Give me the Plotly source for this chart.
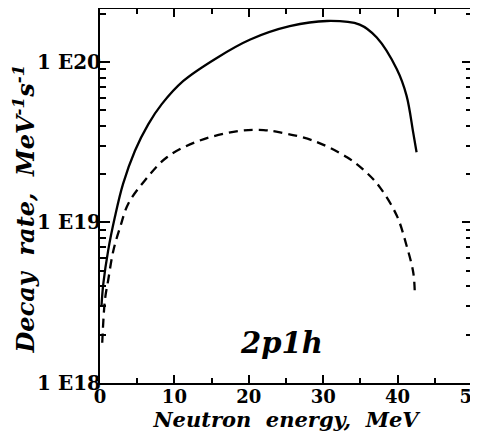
import plotly.graph_objects as go

# Neutron energy (MeV) and decay rates (MeV^-1 s^-1)
solid_energy = [0.2, 0.45, 1.1, 2.0, 3.1, 4.7, 6.5, 8.3, 11.2, 15.7, 20.2, 25.5,
                30.5, 34.9, 37.2, 39.9, 41.2, 42.1, 42.55]
solid_rate = [3.02e18, 4.17e18, 6.70e18, 1.08e19, 1.74e19, 2.80e19, 4.10e19, 5.46e19,
              7.62e19, 1.06e20, 1.38e20, 1.67e20, 1.80e20, 1.71e20, 1.42e20, 9.0e19,
              6.17e19, 3.63e19, 2.74e19]

dashed_energy = [0.3, 0.67, 1.1, 1.8, 2.7, 3.8, 6.0, 9.0, 13.4, 18.8, 22.0, 24.2,
                 28.7, 33.2, 35.8, 37.6, 39.9, 41.2, 42.1, 42.3]
dashed_rate = [1.78e18, 3.31e18, 4.37e18, 6.70e18, 9.33e18, 1.31e19, 1.82e19, 2.55e19,
               3.24e19, 3.72e19, 3.76e19, 3.64e19, 3.23e19, 2.55e19, 2.05e19, 1.66e19,
               1.10e19, 7.19e18, 4.90e18, 3.78e18]

x_ticks = [0, 10, 20, 30, 40, 50]
x_minor = [5, 15, 25, 35, 45]
y_ticks = [1e18, 1e19, 1e20]
y_ticklabels = ["1 E18", "1 E19", "1 E20"]
y_minor = [float(m) * 10.0 ** e for e in (18, 19, 20) for m in range(2, 10)]
panel_label = "2p1h"

serif = "DejaVu Serif"

fig = go.Figure()
fig.add_trace(go.Scatter(x=solid_energy, y=solid_rate, mode="lines",
                         line=dict(color="black", width=2.3, shape="spline"),
                         showlegend=False))
fig.add_trace(go.Scatter(x=dashed_energy, y=dashed_rate, mode="lines",
                         line=dict(color="black", width=2.3, dash="9px,6px", shape="spline"),
                         showlegend=False))

fig.add_annotation(x=24.4, y=18.25, xref="x", yref="y", text=panel_label,
                   showarrow=False,
                   font=dict(family=serif, size=29, color="black", style="italic",
                             weight="bold"))

fig.update_xaxes(range=[0, 50], tickmode="array", tickvals=x_ticks,
                 ticktext=[str(v) for v in x_ticks], ticklabeloverflow="allow",
                 automargin=False,
                 ticks="inside", ticklen=8, tickwidth=1.5, tickcolor="black",
                 showline=True, linecolor="black", linewidth=2, mirror="allticks",
                 showgrid=False, zeroline=False, ticklabelstandoff=-4,
                 minor=dict(tickvals=x_minor, ticks="inside", ticklen=5,
                            tickwidth=1.5, tickcolor="black", showgrid=False),
                 tickfont=dict(family=serif, size=18, color="black", weight="bold"),
                 title=dict(text="Neutron&nbsp; energy,&nbsp; MeV", standoff=3,
                            font=dict(family=serif, size=21, color="black",
                                      weight="bold", style="italic")))
fig.update_yaxes(type="log", range=[18, 20.33], tickmode="array", tickvals=y_ticks,
                 ticktext=y_ticklabels, ticklabeloverflow="allow",
                 automargin=False,
                 ticks="inside", ticklen=10, tickwidth=1.5, tickcolor="black",
                 showline=True, linecolor="black", linewidth=2, mirror="allticks",
                 showgrid=False, zeroline=False, ticklabelstandoff=-7,
                 minor=dict(tickvals=y_minor, ticks="inside", ticklen=6,
                            tickwidth=1.5, tickcolor="black", showgrid=False),
                 tickfont=dict(family=serif, size=20, color="black", weight="bold"),
                 title=dict(text="Decay&nbsp; rate,&nbsp; MeV<sup>-1</sup>s<sup>-1</sup>&nbsp;&nbsp;&nbsp;",
                            standoff=3,
                            font=dict(family=serif, size=24, color="black",
                                      weight="bold", style="italic")))

# the page body adds an 8px offset, so the figure is sized to fill the rest of the window
fig.update_layout(width=470, height=428, margin=dict(l=92, r=6, t=1, b=53),
                  paper_bgcolor="white", plot_bgcolor="white")

fig.write_html("out.html")
